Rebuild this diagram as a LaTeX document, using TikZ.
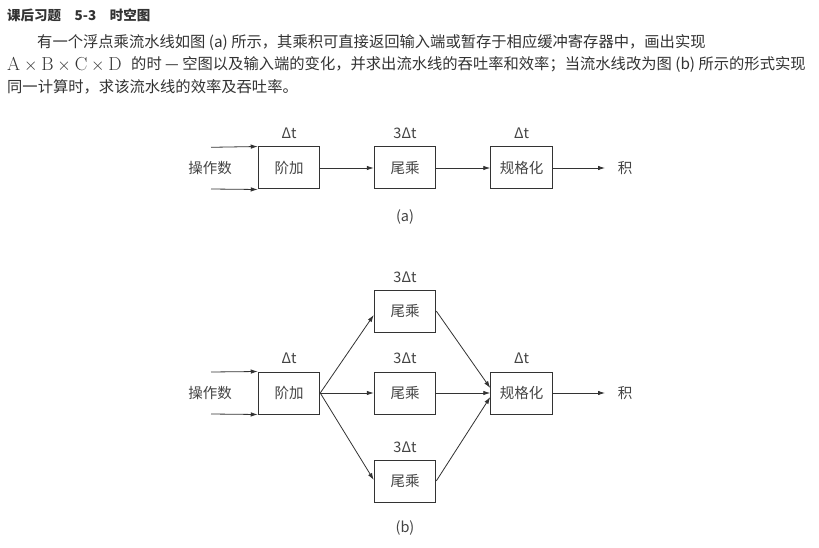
\documentclass[tikz,border=0pt]{standalone}
\usepackage{fontspec}
\usetikzlibrary{arrows.meta,calc}
\newfontfamily\cjk{Noto Sans CJK SC}
\definecolor{ink}{HTML}{333333}
\definecolor{diag}{HTML}{444444}
\begin{document}
\begin{tikzpicture}[x=1pt,y=-1pt,
  stage/.style={draw=ink,line width=1pt,minimum width=61.5pt,minimum height=42pt,inner sep=0pt,
    font=\cjk\fontsize{14.5}{16}\selectfont,text=diag},
  lbl/.style={inner sep=0pt,font=\cjk\fontsize{14.5}{16}\selectfont,text=diag},
  para/.style={inner sep=0pt,anchor=west,font=\cjk\fontsize{15.3}{18}\selectfont,text=ink},
  flow/.style={draw=ink,line width=0.8pt,-{Latex[length=7pt,width=4.5pt]}}]
\useasboundingbox[fill=white] (0,0) rectangle (819,548);

% heading and problem statement
\node[para,font=\cjk\bfseries\fontsize{13.5}{16}\selectfont] (title) at (7,15) {课后习题\hspace{1em}5-3\hspace{1em}时空图};
\node[para] (l1) at (37,43) {有一个浮点乘流水线如图 (a) 所示，其乘积可直接返回输入端或暂存于相应缓冲寄存器中，画出实现};
\node[para] (l2m) at (7,65) {\fontsize{18.8}{20}\selectfont$\mathrm{A}\times\mathrm{B}\times\mathrm{C}\times\mathrm{D}$};
\node[para] (l2) at (131,65) {的时 — 空图以及输入端的变化，并求出流水线的吞吐率和效率；当流水线改为图 (b) 所示的形式实现};
\node[para] (l3) at (7,87) {同一计算时，求该流水线的效率及吞吐率。};

% (a) linear pipeline
\node[stage] (adda) at (289,168) {阶加};
\node[stage] (mula) at (405,168) {尾乘};
\node[stage] (norma) at (521.5,168) {规格化};
\node[lbl] (ta1) at (289,133) {Δt};
\node[lbl] (ta2) at (405,133) {3Δt};
\node[lbl] (ta3) at (521.5,133) {Δt};
\node[lbl] (opa) at (210,168) {操作数};
\node[lbl] (resa) at (625,168) {积};
\node[lbl] (capa) at (405,217) {(a)};
\coordinate (ina1) at (211,147.3);
\coordinate (ina2) at (211,189);
\coordinate (outa) at (605,168);
\draw[flow] (ina1) -- (adda.north west);
\draw[flow] (ina2) -- (adda.south west);
\draw[flow] (adda.east) -- (mula.west);
\draw[flow] (mula.east) -- (norma.west);
\draw[flow] (norma.east) -- (outa);

% (b) pipeline with three parallel multipliers
\node[stage] (addb) at (289,393) {阶加};
\node[stage] (mulb1) at (405,311) {尾乘};
\node[stage] (mulb2) at (405,393) {尾乘};
\node[stage] (mulb3) at (405,481) {尾乘};
\node[stage] (normb) at (521.5,393) {规格化};
\node[lbl] (tb0) at (405,277) {3Δt};
\node[lbl] (tb1) at (289,358) {Δt};
\node[lbl] (tb2) at (405,358) {3Δt};
\node[lbl] (tb3) at (521.5,358) {Δt};
\node[lbl] (tb4) at (405,447) {3Δt};
\node[lbl] (opb) at (210,393) {操作数};
\node[lbl] (resb) at (625,393) {积};
\node[lbl] (capb) at (405,528) {(b)};
\coordinate (inb1) at (211,372);
\coordinate (inb2) at (211,414);
\coordinate (outb) at (605,393);
\draw[flow] (inb1) -- (addb.north west);
\draw[flow] (inb2) -- (addb.south west);
\draw[flow] (addb.east) -- ($(mulb1.west)+(0,4)$);
\draw[flow] (addb.east) -- (mulb2.west);
\draw[flow] (addb.east) -- ($(mulb3.west)+(0,-1)$);
\draw[flow] (mulb1.east) -- ($(normb.west)+(0,-5)$);
\draw[flow] (mulb2.east) -- (normb.west);
\draw[flow] (mulb3.east) -- ($(normb.west)+(0,4)$);
\draw[flow] (normb.east) -- (outb);
\end{tikzpicture}
\end{document}
